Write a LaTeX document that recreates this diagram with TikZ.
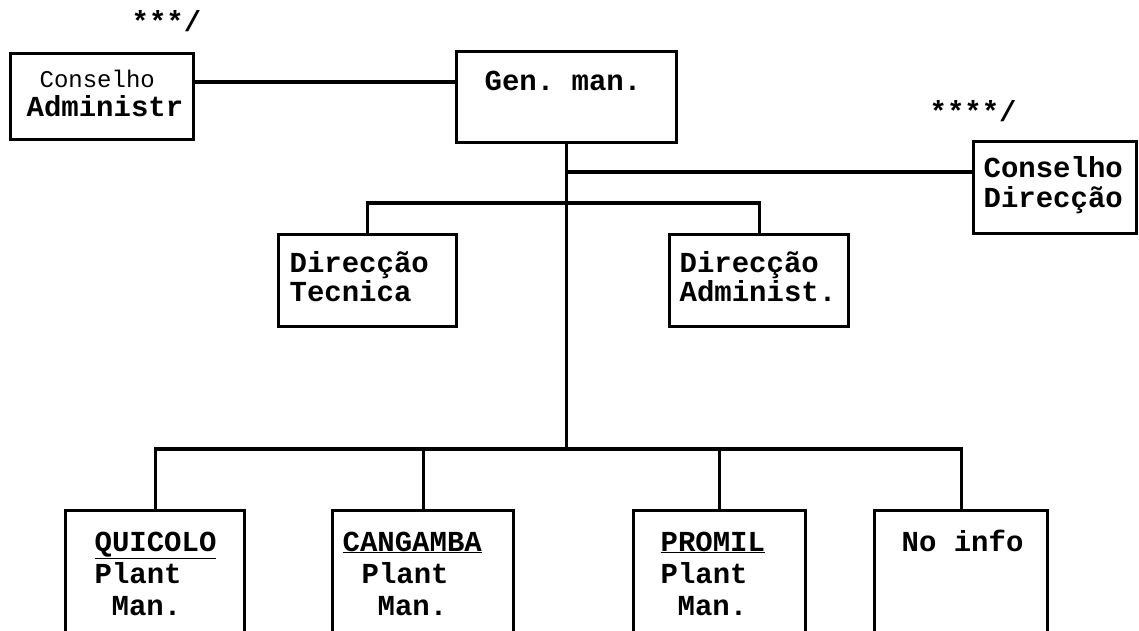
\documentclass[tikz,border=0pt]{standalone}
\usepackage{fontspec}
\setmonofont{Liberation Mono}
\begin{document}
\begin{tikzpicture}[x=1pt,y=-1pt,line width=3.2pt,
  box/.style={draw,rectangle,inner sep=0pt,anchor=north west},
  lbl/.style={anchor=base west,inner sep=0pt,font=\ttfamily\bfseries\fontsize{29}{32}\selectfont},
  thin lbl/.style={anchor=base west,inner sep=0pt,font=\ttfamily\fontsize{24}{28}\selectfont},
  note/.style={anchor=base west,inner sep=0pt,font=\ttfamily\bfseries\fontsize{29}{32}\selectfont}]
\useasboundingbox (0,0) rectangle (1139,630);
\clip (0,0) rectangle (1139,630);

% boxes: name, top-left corner, bottom-right corner
\newcommand\orgbox[5]{\node[box,minimum width=#4-#2,minimum height=#5-#3] (#1) at (#2,#3) {};}
\orgbox{ca}{9}{52}{192}{138}
\orgbox{gm}{455}{50}{675}{141}
\orgbox{cd}{972}{140}{1135}{232}
\orgbox{dt}{277}{233}{455}{325}
\orgbox{da}{668}{233}{847}{325}
\orgbox{q}{64}{509}{243}{660}
\orgbox{c}{331}{509}{512}{660}
\orgbox{p}{632}{509}{804}{660}
\orgbox{n}{873}{509}{1046}{660}

% junction levels
\coordinate (top) at (0,82);
\coordinate (side) at (0,172);
\coordinate (mid) at (0,203);
\coordinate (bus) at (0,449);

% connectors
\draw (ca.east |- top) -- (gm.west |- top);
\draw (gm.south) -- (gm.south |- bus);
\draw (gm.south |- side) -- (cd.west |- side);
\draw (dt.north) |- (da.north |- mid) -- (da.north);
\draw (q.north) |- (n.north |- bus) -- (n.north);
\draw (c.north) -- (c.north |- bus);
\draw (p.north) -- (p.north |- bus);

% notes
\node[note] (n3) at (130,31) {***/};
\node[note] (n4) at (928,121) {****/};

% texts
\node[thin lbl] (ca1) at (38,87) {Conselho};
\node[lbl] (ca2) at (25,116) {Administr};
\node[lbl] (gm1) at (483,90) {Gen. man.};
\node[lbl] (cd1) at (982,177) {Conselho};
\node[lbl] (cd2) at (982,207) {Direcção};
\node[lbl] (dt1) at (288,272) {Direcção};
\node[lbl] (dt2) at (288,301) {Tecnica};
\node[lbl] (da1) at (678,272) {Direcção};
\node[lbl] (da2) at (678,301) {Administ.};
\node[lbl] (q1) at (93,551) {\underline{QUICOLO}};
\node[lbl] (q2) at (93,583) {Plant};
\node[lbl] (q3) at (110,615) {Man.};
\node[lbl] (c1) at (341,551) {\underline{CANGAMBA}};
\node[lbl] (c2) at (360,583) {Plant};
\node[lbl] (c3) at (376,615) {Man.};
\node[lbl] (p1) at (659,551) {\underline{PROMIL}};
\node[lbl] (p2) at (659,583) {Plant};
\node[lbl] (p3) at (676,615) {Man.};
\node[lbl] (n1) at (900,551) {No info};
\end{tikzpicture}
\end{document}
